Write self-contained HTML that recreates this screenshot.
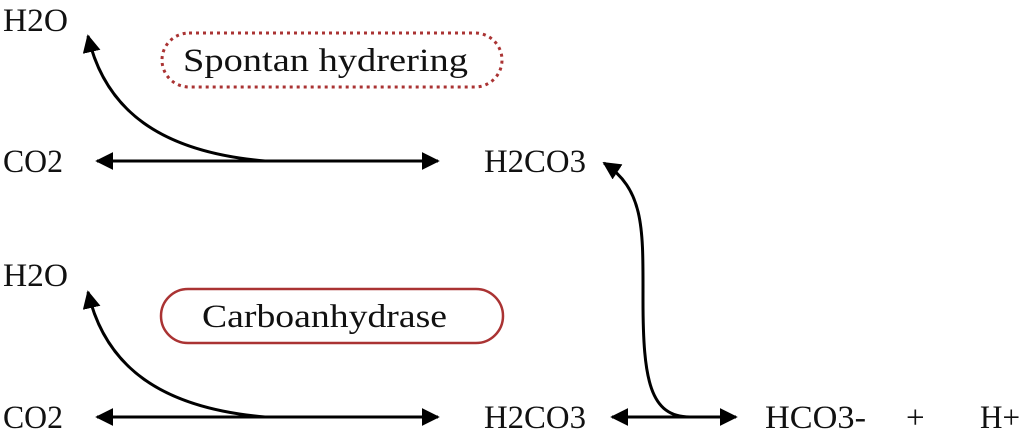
<!DOCTYPE html>
<html><head><meta charset="utf-8"><style>
html,body{margin:0;padding:0;background:#fff;}
svg{display:block;}
text{font-family:"Liberation Serif",serif;font-size:33px;fill:#111;}
</style></head><body>
<svg width="1024" height="437" viewBox="0 0 1024 437" xmlns="http://www.w3.org/2000/svg">
<defs>
<marker id="a" viewBox="0 0 10 10" refX="9" refY="5" markerWidth="6" markerHeight="6" orient="auto-start-reverse" markerUnits="strokeWidth">
<path d="M0,0 L10,5 L0,10 z" fill="#000"/></marker>
</defs>
<text x="3" y="31" textLength="65" lengthAdjust="spacingAndGlyphs">H2O</text>
<text x="3" y="172" textLength="60" lengthAdjust="spacingAndGlyphs">CO2</text>
<text x="484" y="172" textLength="102" lengthAdjust="spacingAndGlyphs">H2CO3</text>
<text x="3" y="286" textLength="65" lengthAdjust="spacingAndGlyphs">H2O</text>
<text x="3" y="428" textLength="60" lengthAdjust="spacingAndGlyphs">CO2</text>
<text x="484" y="428" textLength="102" lengthAdjust="spacingAndGlyphs">H2CO3</text>
<text x="765" y="428" textLength="101" lengthAdjust="spacingAndGlyphs">HCO3-</text>
<text x="906" y="428">+</text>
<text x="980" y="428" textLength="40" lengthAdjust="spacingAndGlyphs">H+</text>

<rect x="162" y="33" width="340" height="54" rx="27" fill="none" stroke="#a33" stroke-width="3" stroke-dasharray="3,4"/>
<text x="183" y="71" textLength="285" lengthAdjust="spacingAndGlyphs">Spontan hydrering</text>
<rect x="161" y="289" width="342" height="54" rx="27" fill="none" stroke="#a33" stroke-width="2.5"/>
<text x="202" y="327" textLength="245" lengthAdjust="spacingAndGlyphs">Carboanhydrase</text>

<g stroke="#000" stroke-width="3" fill="none">
<line x1="97" y1="161" x2="438" y2="161" marker-start="url(#a)" marker-end="url(#a)"/>
<path d="M265,161 C160,152 105,110 88,36" marker-end="url(#a)"/>
<line x1="97" y1="417" x2="438" y2="417" marker-start="url(#a)" marker-end="url(#a)"/>
<path d="M265,417 C160,408 105,366 88,292" marker-end="url(#a)"/>
<line x1="612" y1="417" x2="736" y2="417" marker-start="url(#a)" marker-end="url(#a)"/>
<path d="M690,417 C650,417 643,380 643,300 C643,230 645,190 604,163" marker-end="url(#a)"/>
</g>
</svg>
</body></html>
